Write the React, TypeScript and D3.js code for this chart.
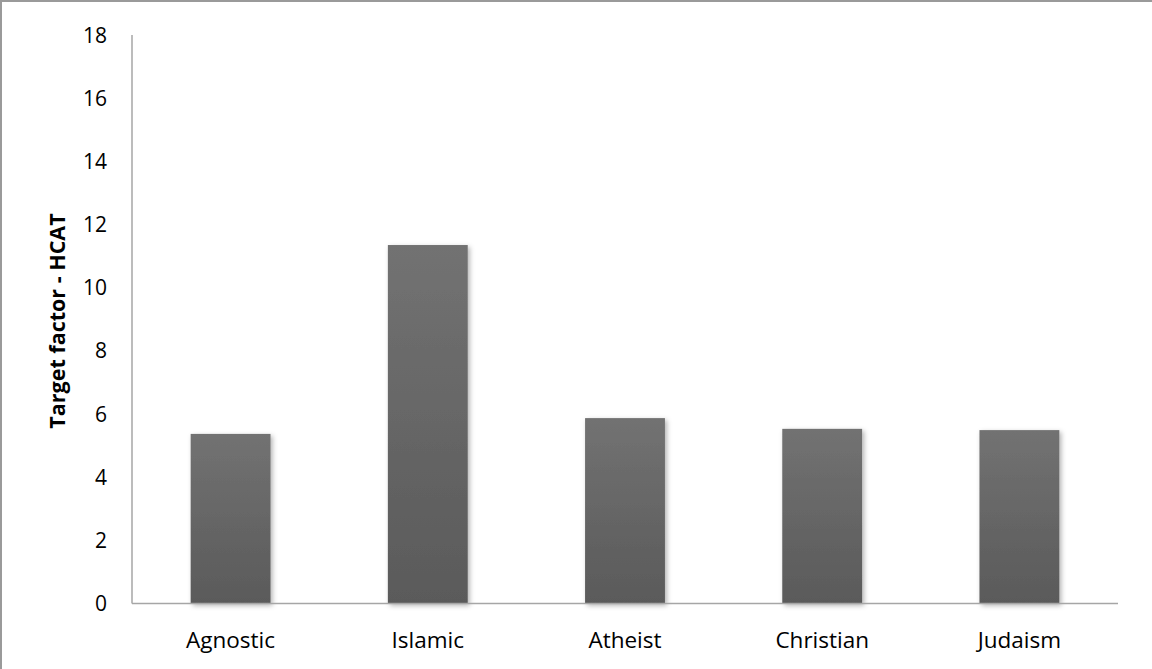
import { useEffect, useRef } from "react"
import * as d3 from "d3"

const categories = ["Agnostic", "Islamic", "Atheist", "Christian", "Judaism"]
const values = [5.37, 11.35, 5.87, 5.53, 5.49]
const yTicks = [0, 2, 4, 6, 8, 10, 12, 14, 16, 18]
const yTitle = "Target factor - HCAT"

const WIDTH = 1152
const HEIGHT = 669

export default function App() {
  const svgRef = useRef<SVGSVGElement>(null)

  useEffect(() => {
    if (!svgRef.current) return
    const svg = d3.select(svgRef.current)
    svg.selectAll("*").remove()

    const font = "'Open Sans', Lato, sans-serif"
    const margin = { top: 35, right: 34, bottom: 65.5, left: 132 }
    const innerW = WIDTH - margin.left - margin.right
    const innerH = HEIGHT - margin.top - margin.bottom

    // fundo + borda
    svg.append("rect").attr("width", WIDTH).attr("height", HEIGHT).attr("fill", "#fff")
    svg
      .append("rect")
      .attr("x", 1)
      .attr("y", 1)
      .attr("width", WIDTH + 10)
      .attr("height", HEIGHT + 10)
      .attr("fill", "none")
      .attr("stroke", "#9a9a9a")
      .attr("stroke-width", 2)

    const defs = svg.append("defs")
    const grad = defs
      .append("linearGradient")
      .attr("id", "barGrad")
      .attr("x1", 0)
      .attr("y1", 0)
      .attr("x2", 0)
      .attr("y2", 1)
    grad.append("stop").attr("offset", "0%").attr("stop-color", "#727272")
    grad.append("stop").attr("offset", "100%").attr("stop-color", "#5a5a5a")

    const filter = defs
      .append("filter")
      .attr("id", "shadow")
      .attr("x", "-20%")
      .attr("y", "-10%")
      .attr("width", "140%")
      .attr("height", "120%")
    filter
      .append("feDropShadow")
      .attr("dx", 2)
      .attr("dy", 2)
      .attr("stdDeviation", 2.5)
      .attr("flood-color", "#000")
      .attr("flood-opacity", 0.3)

    const g = svg.append("g").attr("transform", `translate(${margin.left},${margin.top})`)

    const x = d3.scaleBand<string>().domain(categories).range([0, innerW]).paddingInner(0.595).paddingOuter(0.2975)
    const y = d3.scaleLinear().domain([0, 18]).range([innerH, 0])

    // barras
    g.selectAll("rect.bar")
      .data(values)
      .enter()
      .append("rect")
      .attr("class", "bar")
      .attr("x", (d, i) => x(categories[i])!)
      .attr("y", (d) => y(d))
      .attr("width", x.bandwidth())
      .attr("height", (d) => innerH - y(d))
      .attr("fill", "url(#barGrad)")
      .attr("filter", "url(#shadow)")

    // eixos
    g.append("line")
      .attr("x1", 0)
      .attr("x2", 0)
      .attr("y1", 0)
      .attr("y2", innerH)
      .attr("stroke", "#a6a6a6")
      .attr("stroke-width", 1.5)
    g.append("line")
      .attr("x1", 0)
      .attr("x2", innerW)
      .attr("y1", innerH)
      .attr("y2", innerH)
      .attr("stroke", "#a6a6a6")
      .attr("stroke-width", 1.5)

    g.selectAll("text.ytick")
      .data(yTicks)
      .enter()
      .append("text")
      .attr("class", "ytick")
      .attr("x", -25)
      .attr("y", (d) => y(d))
      .attr("dy", "0.36em")
      .attr("text-anchor", "end")
      .attr("fill", "#000")
      .style("font-family", font)
      .style("font-size", "21px")
      .text((d) => d)

    g.selectAll("text.xtick")
      .data(categories)
      .enter()
      .append("text")
      .attr("class", "xtick")
      .attr("x", (d) => x(d)! + x.bandwidth() / 2)
      .attr("y", innerH + 44)
      .attr("text-anchor", "middle")
      .attr("fill", "#000")
      .style("font-family", font)
      .style("font-size", "22.5px")
      .text((d) => d)

    svg
      .append("text")
      .attr("transform", `translate(65,321) rotate(-90)`)
      .attr("text-anchor", "middle")
      .attr("fill", "#000")
      .style("font-family", font)
      .style("font-size", "21.5px")
      .style("font-weight", "bold")
      .text(yTitle)
  }, [])

  return (
    <div style={{ position: "absolute", left: 0, top: 0 }}>
      <svg ref={svgRef} width={WIDTH} height={HEIGHT} style={{ display: "block" }} />
    </div>
  )
}
